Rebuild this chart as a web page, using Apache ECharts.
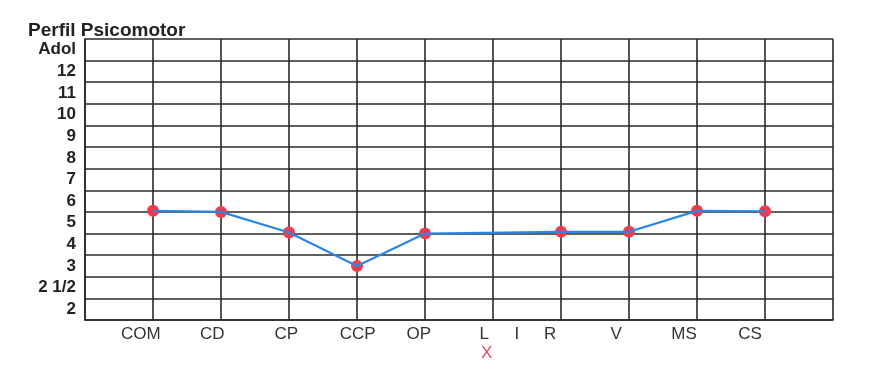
<!DOCTYPE html>
<html><head><meta charset="utf-8">
<script src="https://cdn.jsdelivr.net/npm/echarts@6/dist/echarts.min.js"></script>
<style>html,body{margin:0;padding:0;background:#fff}#c{width:883px;height:379px}</style>
</head><body><div id="c"></div>
<script>
const rowLabels = ['2','2 1/2','3','4','5','6','7','8','9','10','11','12','Adol'];
const colLabels = ['COM','CD','CP','CCP','OP','L','I','R','V','MS','CS'];
const colLabelPos = [0.82,1.87,2.96,4.01,4.91,5.87,6.35,6.84,7.81,8.81,9.78];
const pointNames = ['COM','CD','CP','CCP','OP','R','V','MS','CS'];
const pointCols = [1,2,3,4,5,7,8,9,10];
const pointValues = [5.05,5.0,4.05,2.5,4.0,4.08,4.08,5.05,5.03];

const pts = pointCols.map((c,i)=>[c,pointValues[i],pointNames[i]]);
const gridColor = '#2a2a2a';
const chart = echarts.init(document.getElementById('c'));
chart.setOption({
  animation:false,
  backgroundColor:'#fff',
  title:{text:'Perfil Psicomotor',left:23,top:16,textStyle:{fontFamily:'Liberation Sans',fontSize:19,fontWeight:'bold',color:'#222'}},
  grid:{left:85,right:50,top:39,bottom:59},
  xAxis:[
    {type:'value',min:0,max:11,interval:1,position:'bottom',
     axisLine:{show:true,lineStyle:{color:gridColor,width:1.6}},axisTick:{show:false},axisLabel:{show:false},
     splitLine:{show:true,lineStyle:{color:gridColor,width:1.6}}},
    {type:'value',min:0,max:11,position:'bottom',
     axisLine:{show:false},axisTick:{show:false},splitLine:{show:false},
     axisLabel:{show:true,customValues:colLabelPos,margin:6,fontFamily:'Liberation Sans',fontSize:17,color:'#333',
       formatter:function(v){let b=0,d=1e9;colLabelPos.forEach((p,i)=>{if(Math.abs(p-v)<d){d=Math.abs(p-v);b=i;}});return colLabels[b];}}}
  ],
  yAxis:[
    {type:'category',data:rowLabels,boundaryGap:true,
     axisLine:{show:true,lineStyle:{color:gridColor,width:1.6}},axisTick:{show:false,interval:0},
     axisLabel:{interval:0,margin:9,fontFamily:'Liberation Sans',fontSize:17,fontWeight:'bold',color:'#222'},
     splitLine:{show:true,interval:0,lineStyle:{color:gridColor,width:1.6}}},
    {type:'value',min:0,max:13,show:false}
  ],
  graphic:[{type:'text',left:481,top:345,style:{text:'X',fill:'#e04a5e',font:'17px "Liberation Sans"'}}],
  series:[
    {type:'scatter',xAxisIndex:0,yAxisIndex:1,data:pts,symbolSize:12,itemStyle:{color:'#f03c50',opacity:1},z:2},
    {type:'line',xAxisIndex:0,yAxisIndex:1,data:pts,showSymbol:false,symbol:'none',lineStyle:{color:'#2b86e0',width:2.2},z:3}
  ]
});
</script></body></html>
